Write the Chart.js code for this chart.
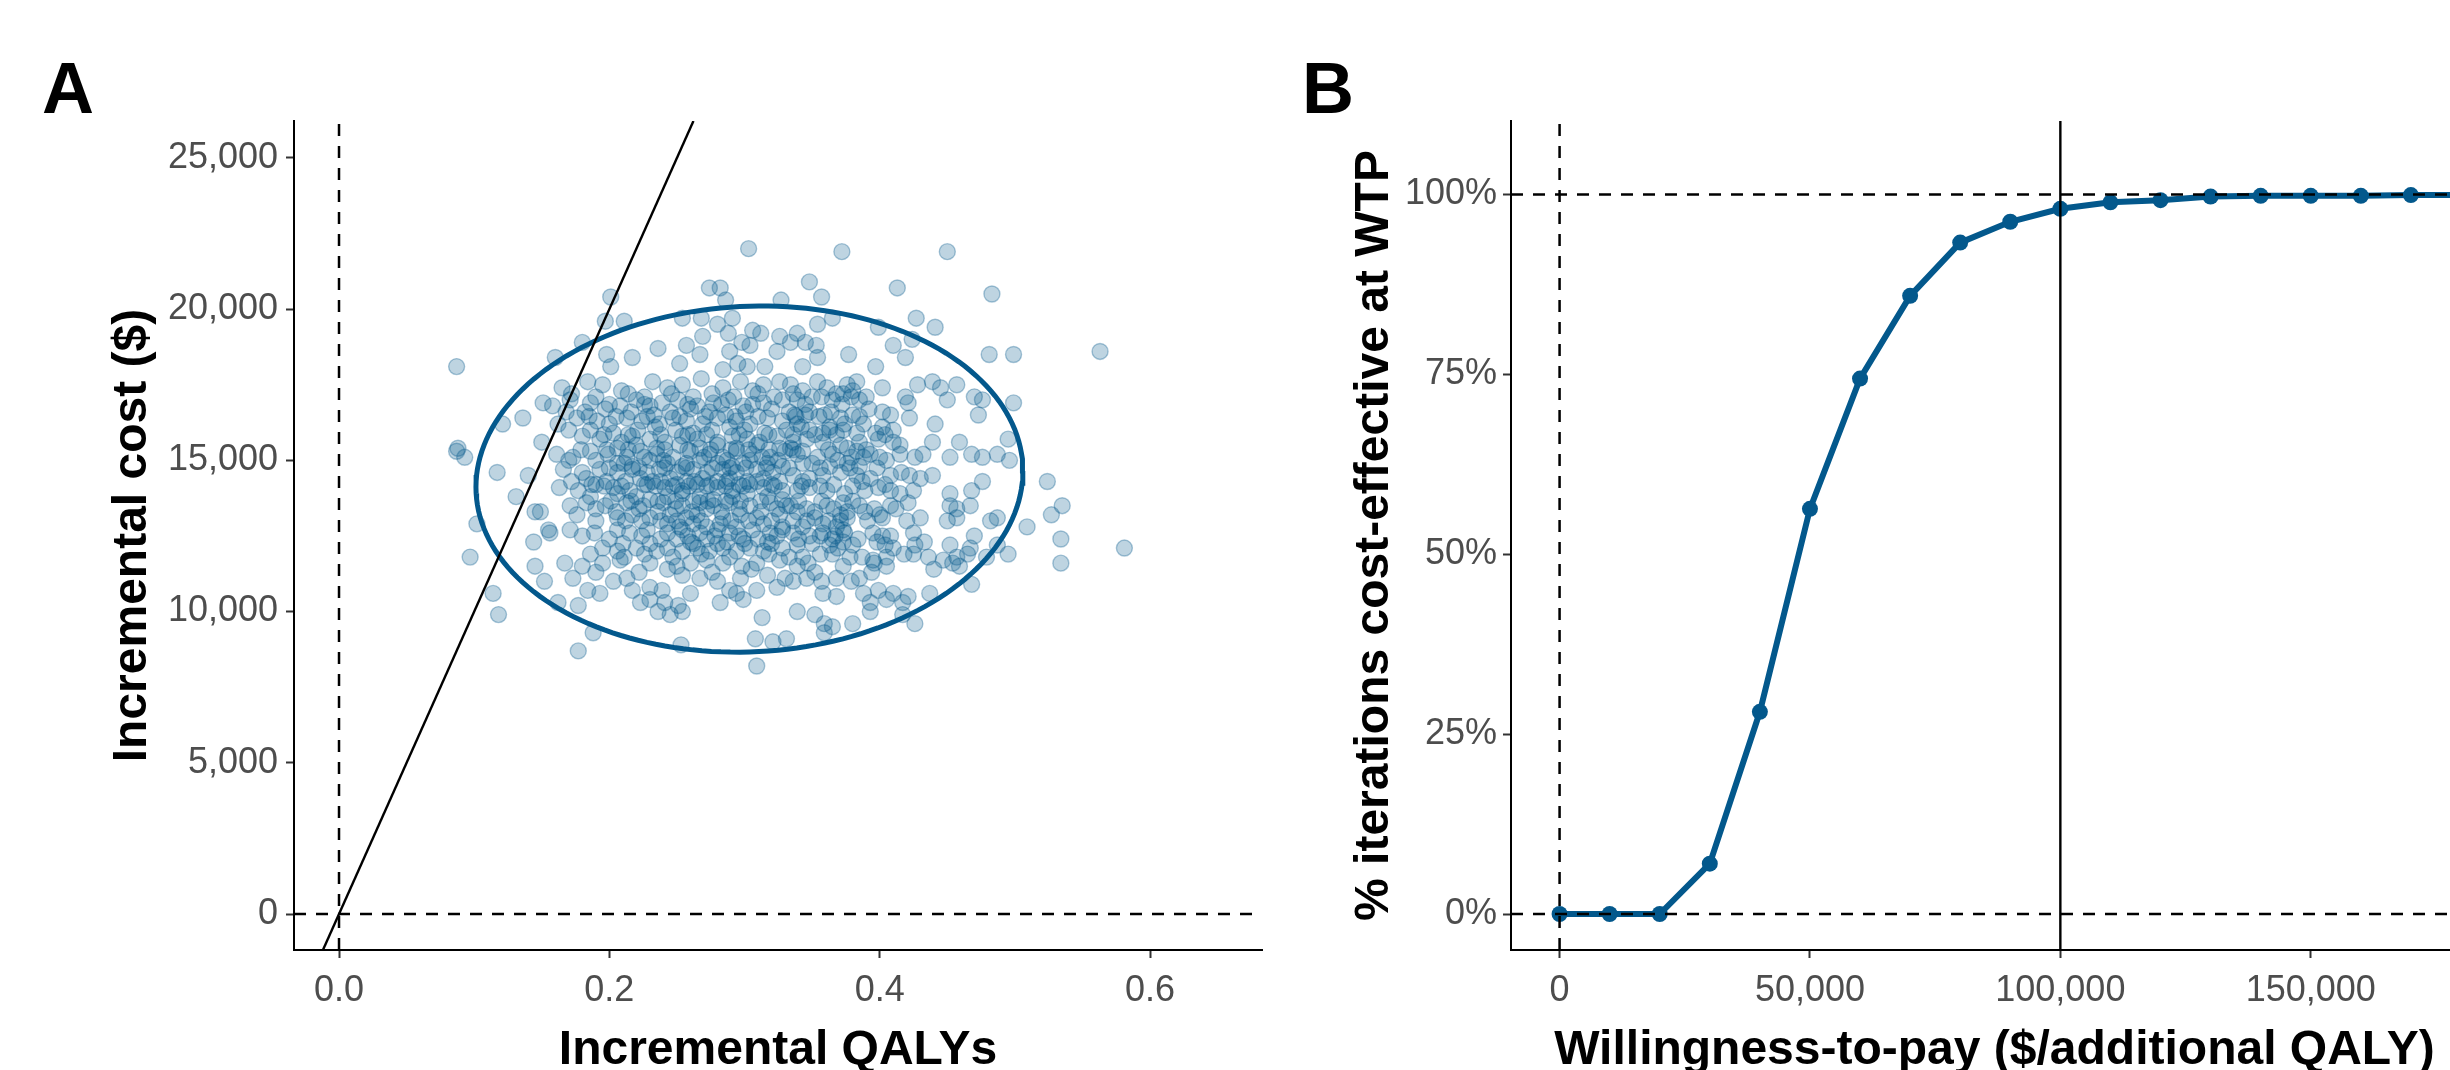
<!DOCTYPE html>
<html>
<head>
<meta charset="utf-8">
<title>Incremental cost-effectiveness plane and CEAC</title>
<script src="https://cdn.jsdelivr.net/npm/chart.js@4.4.1/dist/chart.umd.min.js"></script>
<style>
  html, body { margin: 0; padding: 0; background: #fff; overflow: hidden; width: 2450px; height: 1070px; }
  .panel { position: absolute; top: 0; }
  #panelA { left: 0; }
  #panelB { left: 1290px; }
</style>
</head>
<body>
<div class="panel" id="panelA"><canvas id="chartA" width="1290" height="1100"></canvas></div>
<div class="panel" id="panelB"><canvas id="chartB" width="1200" height="1100"></canvas></div>
<script>
// ---- panel A : PSA draws, [incremental QALYs, incremental cost in $1,000] ----
const psaDraws = [
  [.303,22.0],[.274,20.7],[.282,20.7],[.286,20.3],[.327,20.3],[.201,20.4],[.197,19.6],[.211,19.6],[.254,19.7],[.268,19.7],
  [.280,19.5],[.291,19.7],[.180,18.9],[.160,18.4],[.087,18.1],[.236,18.7],[.217,18.4],[.198,18.5],[.201,18.1],[.257,18.8],
  [.269,19.1],[.252,18.2],[.267,18.5],[.288,19.2],[.298,18.9],[.306,19.3],[.312,19.2],[.326,19.1],[.334,18.9],[.289,18.6],
  [.304,18.8],[.315,18.1],[.324,18.6],[.284,18.0],[.295,18.2],[.302,18.1],[.151,16.9],[.136,16.4],[.121,16.2],[.150,15.6],
  [.088,15.4],
  [.372,21.9],[.450,21.9],[.348,20.9],[.357,20.4],[.413,20.7],[.483,20.5],[.427,19.7],[.441,19.4],[.399,19.4],[.354,19.5],
  [.365,19.7],[.410,18.8],[.424,19.0],[.419,18.4],[.481,18.5],[.499,18.5],[.563,18.6],[.339,19.2],[.345,18.9],[.353,18.8],
  [.354,18.4],[.343,18.1],[.377,18.5],[.397,18.1],
  [.087,15.3],[.093,15.1],[.117,14.6],[.140,14.5],[.131,13.8],[.102,12.9],[.097,11.8],[.114,10.6],[.118,9.9],[.145,13.3],
  [.149,13.3],[.155,12.7],[.144,12.3],[.145,11.5],[.152,11.0],[.188,9.3],[.177,8.7],[.253,8.9],[.308,9.1],[.309,8.2],
  [.321,9.0],[.331,9.1],
  [.524,14.3],[.535,13.5],[.527,13.2],[.509,12.8],[.534,12.4],[.534,11.6],[.581,12.1],[.359,9.3],[.468,10.9],
  [.165,17.4],[.184,17.6],[.195,17.5],[.209,17.3],[.232,17.6],[.243,17.4],[.254,17.5],[.268,17.7],[.284,17.4],[.297,17.6],
  [.306,17.3],[.314,17.5],[.326,17.6],
  [.158,16.8],[.171,17.0],[.186,16.9],[.208,16.8],[.220,17.0],[.230,16.8],[.239,16.9],[.251,17.0],[.265,16.8],[.277,16.9],
  [.288,17.0],[.299,16.8],[.314,16.9],[.328,17.0],
  [.162,16.2],[.176,16.4],[.191,16.3],[.200,16.2],[.213,16.4],[.224,16.3],[.237,16.2],[.247,16.4],[.257,16.3],[.269,16.2],
  [.280,16.4],[.294,16.3],[.304,16.2],[.317,16.4],[.328,16.3],
  [.180,15.8],[.193,15.7],[.209,15.6],[.217,15.8],[.230,15.7],[.241,15.6],[.254,15.8],[.265,15.7],[.280,15.6],[.291,15.8],
  [.302,15.7],[.311,15.6],[.324,15.8],
  [.206,15.4],[.220,15.5],[.235,15.4],[.252,15.5],[.267,15.4],[.280,15.5],[.294,15.4],[.309,15.5],[.326,15.4],
  [.161,15.2],[.173,15.1],[.186,15.3],[.199,15.2],[.213,15.1],[.223,15.3],[.235,15.2],[.247,15.1],[.260,15.3],[.274,15.2],
  [.284,15.1],[.294,15.3],[.306,15.2],[.319,15.1],[.330,15.3],
  [.206,14.9],[.217,14.8],[.230,15.0],[.243,14.9],[.254,14.8],[.267,15.0],[.280,14.9],[.291,14.8],[.304,15.0],[.317,14.9],
  [.328,14.8],
  [.166,14.7],[.180,14.6],[.193,14.7],[.206,14.6],[.217,14.7],[.228,14.6],[.237,14.7],[.250,14.6],[.262,14.7],[.272,14.6],
  [.284,14.7],[.294,14.6],[.309,14.7],[.321,14.6],
  [.183,14.4],[.198,14.3],[.223,14.4],[.232,14.3],[.245,14.4],[.257,14.3],[.269,14.4],[.280,14.3],[.289,14.4],[.302,14.3],
  [.314,14.4],[.326,14.3],
  [.163,14.1],[.177,14.0],[.187,14.2],[.203,14.1],[.215,14.0],[.228,14.2],[.241,14.1],[.254,14.0],[.265,14.2],[.280,14.1],
  [.291,14.0],[.304,14.2],[.314,14.1],[.328,14.0],
  [.186,13.8],[.206,13.9],[.220,13.8],[.230,13.7],[.243,13.8],[.254,13.9],[.267,13.8],[.277,13.7],[.291,13.8],[.302,13.9],
  [.317,13.8],[.328,13.7],
  [.334,17.5],[.354,17.6],[.361,17.4],[.376,17.5],[.383,17.6],[.402,17.4],[.428,17.5],[.439,17.6],[.445,17.4],[.457,17.5],
  [.343,17.3],[.373,17.2],[.380,17.3],
  [.339,17.0],[.357,17.1],[.365,17.0],[.379,17.1],[.385,17.0],[.419,17.1],[.421,16.9],[.450,17.0],[.470,17.1],[.476,17.0],
  [.499,16.9],
  [.337,16.5],[.348,16.6],[.359,16.5],[.371,16.4],[.380,16.5],[.402,16.6],[.408,16.5],[.422,16.4],[.473,16.5],
  [.339,16.2],[.363,16.1],[.374,16.2],[.388,16.2],[.402,16.1],[.441,16.2],
  [.348,16.0],[.358,15.9],[.373,16.0],[.383,15.9],[.410,16.0],
  [.336,15.6],[.346,15.7],[.358,15.6],[.371,15.5],[.385,15.6],[.399,15.7],[.410,15.6],[.415,15.5],[.439,15.6],[.459,15.6],
  [.495,15.7],
  [.334,15.4],[.343,15.3],[.376,15.4],[.383,15.3],
  [.339,15.2],[.354,15.1],[.365,15.2],[.379,15.1],[.393,15.2],[.400,15.1],[.415,15.2],[.426,15.1],[.432,15.2],[.452,15.1],
  [.468,15.2],[.476,15.1],[.487,15.2],[.496,15.0],
  [.343,14.9],[.363,14.8],[.376,14.9],[.385,14.8],
  [.336,14.5],[.348,14.4],[.358,14.5],[.371,14.6],[.383,14.5],[.393,14.4],[.408,14.5],[.416,14.6],[.422,14.5],[.430,14.4],
  [.439,14.5],[.476,14.3],
  [.339,14.0],[.348,14.1],[.361,14.0],[.374,13.9],[.389,14.0],[.399,14.1],[.408,14.0],[.415,13.9],[.425,14.0],[.452,13.9],
  [.468,14.0],
  [.171,13.5],[.183,13.6],[.197,13.5],[.213,13.6],[.225,13.5],[.240,13.6],[.254,13.5],[.267,13.6],[.277,13.5],[.289,13.6],
  [.304,13.5],[.319,13.6],[.331,13.5],
  [.176,13.2],[.206,13.1],[.217,13.2],[.230,13.1],[.245,13.2],[.257,13.1],[.265,13.2],[.284,13.1],[.297,13.2],[.309,13.1],
  [.326,13.2],
  [.243,12.9],[.252,12.8],[.262,12.9],[.272,12.8],[.282,12.9],[.294,12.8],[.314,12.9],[.328,12.8],
  [.156,12.6],[.171,12.7],[.189,12.6],[.206,12.7],[.215,12.6],[.228,12.7],[.243,12.6],[.254,12.7],[.267,12.6],[.280,12.7],
  [.289,12.6],[.306,12.7],[.319,12.6],[.328,12.7],
  [.250,12.4],[.260,12.3],[.272,12.4],[.287,12.3],[.299,12.4],[.317,12.3],
  [.195,12.1],[.206,12.0],[.220,12.1],[.235,12.0],[.243,12.1],[.254,12.0],[.265,12.1],[.274,12.0],[.284,12.1],[.294,12.0],
  [.304,12.1],[.314,12.0],[.328,12.1],
  [.167,11.6],[.180,11.5],[.195,11.6],[.208,11.7],[.230,11.6],[.250,11.5],[.260,11.6],[.272,11.7],[.284,11.6],[.298,11.5],
  [.309,11.6],[.326,11.7],
  [.173,11.1],[.203,11.0],[.213,11.1],[.254,11.2],[.267,11.1],[.280,11.0],[.297,11.1],[.317,11.2],[.330,11.1],
  [.184,10.7],[.193,10.6],[.217,10.7],[.230,10.8],[.239,10.7],[.260,10.6],[.289,10.7],[.294,10.6],[.309,10.7],[.324,10.8],
  [.162,10.3],[.177,10.2],[.223,10.3],[.230,10.4],[.241,10.3],[.251,10.2],[.282,10.3],[.299,10.4],
  [.236,10.0],[.245,9.9],[.254,10.0],[.313,9.8],
  [.334,13.5],[.346,13.4],[.361,13.5],[.373,13.6],[.385,13.5],[.396,13.4],[.408,13.5],[.421,13.6],[.452,13.5],[.457,13.4],
  [.467,13.5],
  [.339,13.3],[.371,13.2],[.376,13.3],[.400,13.2],
  [.336,13.0],[.352,13.1],[.371,13.0],[.376,13.1],[.391,13.0],[.402,13.1],[.420,13.0],[.430,13.1],[.450,13.0],[.457,13.1],
  [.482,13.0],[.487,13.1],
  [.343,12.8],[.358,12.9],[.368,12.8],[.373,12.7],
  [.336,12.6],[.348,12.5],[.358,12.6],[.367,12.5],[.374,12.6],[.395,12.6],[.408,12.5],[.425,12.6],[.470,12.5],
  [.365,12.4],[.373,12.3],
  [.339,12.2],[.363,12.2],[.369,12.1],[.380,12.2],[.398,12.3],[.404,12.2],[.410,12.1],[.426,12.2],[.433,12.3],[.452,12.2],
  [.467,12.1],[.487,12.2],
  [.343,11.8],[.365,11.9],[.378,11.8],[.395,11.7],[.405,11.8],[.425,11.9],[.436,11.8],[.447,11.7],[.457,11.8],[.465,11.9],
  [.479,11.8],[.495,11.9],
  [.339,11.5],[.347,11.6],[.373,11.5],[.396,11.6],[.405,11.5],[.454,11.6],[.459,11.5],
  [.336,11.0],[.346,11.1],[.357,11.0],[.368,11.1],[.379,11.0],[.385,11.1],
  [.358,10.6],[.368,10.5],[.388,10.6],[.399,10.7],[.410,10.6],[.421,10.5],[.437,10.6],
  [.393,10.3],[.405,10.4],[.417,10.3],
  [.339,10.0],[.352,9.9],[.393,10.0],[.417,9.9],
  [.359,9.6],[.365,9.5],[.380,9.6],[.426,9.6],
  // overlapping draws in the dark core
  [.172,17.2],[.190,17.1],[.214,17.2],[.226,17.1],[.246,17.2],[.262,17.1],[.276,17.2],[.292,17.1],[.310,17.2],[.322,17.1],
  [.336,17.2],[.350,17.1],[.368,17.2],[.390,17.1],
  [.168,16.6],[.182,16.6],[.197,16.7],[.216,16.6],[.233,16.5],[.245,16.6],[.260,16.7],[.274,16.6],[.286,16.5],[.301,16.6],
  [.320,16.7],[.333,16.6],[.345,16.5],[.364,16.6],[.392,16.7],
  [.170,16.0],[.186,16.0],[.203,15.9],[.221,16.0],[.234,16.1],[.249,16.0],[.262,15.9],[.276,16.0],[.289,16.1],[.300,16.0],
  [.315,15.9],[.331,16.0],[.342,16.1],[.363,16.0],[.397,15.9],
  [.170,15.0],[.190,15.0],[.211,14.9],[.226,15.1],[.240,15.0],[.257,14.9],[.270,15.1],[.287,15.0],[.299,14.9],[.313,15.1],
  [.325,15.0],[.350,14.9],[.369,15.0],[.388,15.1],[.405,15.0],
  [.172,14.3],[.190,14.2],[.212,14.3],[.226,14.2],[.238,14.3],[.250,14.2],[.263,14.3],[.275,14.2],[.287,14.3],[.296,14.2],
  [.309,14.3],[.320,14.2],[.343,14.3],[.366,14.2],[.387,14.3],[.404,14.2],
  [.190,13.4],[.205,13.3],[.222,13.4],[.236,13.3],[.249,13.4],[.261,13.3],[.272,13.4],[.283,13.3],[.296,13.4],[.312,13.3],
  [.324,13.4],[.352,13.3],[.366,13.4],[.389,13.3],[.412,13.4],
  [.180,12.5],[.200,12.4],[.224,12.5],[.238,12.4],[.258,12.5],[.278,12.5],[.296,12.5],[.310,12.4],[.324,12.5],[.340,12.4],
  [.356,12.5],[.384,12.4],[.402,12.5],
  [.186,11.9],[.211,11.8],[.226,11.9],[.247,11.8],[.268,11.9],[.289,11.8],[.318,11.9],[.333,11.8],[.356,11.9],[.387,11.8],
  [.418,11.9],
  [.190,11.3],[.222,11.3],[.243,11.4],[.276,11.3],[.305,11.4],[.352,11.3],[.394,11.3],[.440,11.4],
  [.200,16.85],[.226,16.85],[.258,16.85],[.283,16.85],[.306,16.85],[.345,16.85],[.372,16.85],
  [.185,16.45],[.205,16.45],[.228,16.45],[.252,16.45],[.271,16.45],[.293,16.45],[.310,16.45],[.338,16.45],[.355,16.45],[.385,16.45],
  [.196,15.85],[.214,15.85],[.238,15.85],[.258,15.85],[.272,15.85],[.296,15.85],[.318,15.85],[.336,15.85],[.352,15.85],[.368,15.85],
  [.404,15.85],
  [.179,15.35],[.198,15.35],[.214,15.35],[.241,15.35],[.258,15.35],[.275,15.35],[.290,15.35],[.303,15.35],[.318,15.35],[.336,15.35],
  [.362,15.35],[.390,15.35],
  [.200,14.75],[.222,14.75],[.241,14.75],[.257,14.75],[.276,14.75],[.289,14.75],[.301,14.75],[.316,14.75],[.333,14.75],[.356,14.75],
  [.378,14.75],[.398,14.75],
  [.196,14.15],[.209,14.15],[.234,14.15],[.247,14.15],[.259,14.15],[.272,14.15],[.286,14.15],[.299,14.15],[.322,14.15],[.342,14.15],
  [.356,14.15],[.380,14.15],
  [.201,13.65],[.216,13.65],[.236,13.65],[.249,13.65],[.262,13.65],[.273,13.65],[.286,13.65],[.297,13.65],[.312,13.65],[.340,13.65],
  [.357,13.65],[.380,13.65],
  [.190,13.0],[.212,13.0],[.224,13.0],[.238,13.0],[.250,13.0],[.268,13.0],[.290,13.0],[.303,13.0],[.320,13.0],[.346,13.0],
  [.362,13.0],
  [.210,12.25],[.230,12.25],[.262,12.25],[.280,12.25],[.300,12.25],[.320,12.25],[.350,12.25]
];
const ellipseCentre = [0.3036, 14380];  // QALYs, $
const ellipseRadii = [0.2023, 5716];
const ellipseTilt = 265;                // $ lift at the right-hand extreme
const wtpThreshold = 100000;            // $/QALY
const qalyTicks = [0, 0.2, 0.4, 0.6];
const costTicks = [0, 5000, 10000, 15000, 20000, 25000];
const qalyRange = [-0.0333, 0.6828];
const costRange = [-1190, 26220];

// ---- panel B : cost-effectiveness acceptability curve ----
const wtpValues = [0, 10000, 20000, 30000, 40000, 50000, 60000, 70000, 80000, 90000, 100000,
  110000, 120000, 130000, 140000, 150000, 160000, 170000, 180000, 190000, 200000];
const pctCostEffective = [0, 0, 0, 7.0, 28.1, 56.3, 74.4, 85.9, 93.3, 96.2, 98.0,
  98.9, 99.2, 99.7, 99.8, 99.8, 99.8, 99.9, 99.9, 100, 100];
const wtpTicks = [0, 50000, 100000, 150000];
const pctTicks = [0, 25, 50, 75, 100];
const wtpRange = [-9700, 183400];
const pctRange = [-5.0, 110.2];

const FONT = '"Liberation Sans", Arial, Helvetica, sans-serif';
const BLUE = '#03588C';

const panelTag = {
  id: 'panelTag',
  afterDraw(chart, args, opts) {
    const ctx = chart.ctx;
    ctx.save();
    ctx.font = 'bold 72px ' + FONT;
    ctx.fillStyle = '#000';
    ctx.textBaseline = 'alphabetic';
    ctx.fillText(opts.text, opts.x, opts.y);
    ctx.restore();
  }
};

function axis(o) {
  return {
    type: 'linear',
    min: o.range[0],
    max: o.range[1],
    afterBuildTicks: s => { s.ticks = o.ticks.map(v => ({ value: v })); },
    afterFit: s => {
      if (o.width) s.width = o.width;
      if (o.height) s.height = o.height;
    },
    grid: { display: true, drawOnChartArea: false, drawTicks: true, tickLength: 8, tickWidth: 2, tickColor: '#333333' },
    border: { display: true, color: '#000', width: 2 },
    ticks: {
      autoSkip: false, maxRotation: 0, minRotation: 0, padding: o.tickPad,
      color: '#4D4D4D', font: { family: FONT, size: 36 }, callback: o.fmt
    },
    title: {
      display: true, text: o.title, color: '#000',
      font: { family: FONT, size: 48, weight: 'bold' }, padding: o.titlePad
    }
  };
}

function refLine(points, dashed) {
  return {
    data: points, showLine: true, pointRadius: 0, borderColor: '#000',
    borderWidth: dashed ? 2.5 : 2.4, borderDash: dashed ? [12, 10] : [], tension: 0
  };
}

const thousands = v => v.toLocaleString('en-US');

// ellipse outline around the PSA cloud
const ellipsePts = [];
for (let i = 0; i <= 180; i++) {
  const t = i / 180 * 2 * Math.PI;
  ellipsePts.push({
    x: ellipseCentre[0] + ellipseRadii[0] * Math.cos(t),
    y: ellipseCentre[1] + ellipseRadii[1] * Math.sin(t) + ellipseTilt * Math.cos(t)
  });
}

const baseOpts = {
  responsive: false, animation: false, devicePixelRatio: 1, events: [],
};

new Chart(document.getElementById('chartA'), {
  type: 'scatter',
  data: {
    datasets: [
      Object.assign(refLine([{ x: qalyRange[0], y: 0 }, { x: qalyRange[1], y: 0 }], true), { order: 6 }),
      Object.assign(refLine([{ x: 0, y: costRange[0] }, { x: 0, y: costRange[1] }], true), { order: 6 }),
      {
        data: psaDraws.map(([q, c]) => ({ x: q, y: c * 1000 })),
        pointRadius: 8, pointBackgroundColor: 'rgba(3,88,140,0.26)',
        pointBorderColor: 'rgba(3,88,140,0.33)', pointBorderWidth: 1.4, order: 4
      },
      {
        data: ellipsePts, showLine: true, pointRadius: 0, borderColor: BLUE,
        borderWidth: 5, tension: 0, order: 2
      },
      Object.assign(refLine([
        { x: costRange[0] / wtpThreshold, y: costRange[0] },
        { x: costRange[1] / wtpThreshold, y: costRange[1] }
      ], false), { order: 1 })
    ]
  },
  options: Object.assign({}, baseOpts, {
    layout: { padding: { top: 121, right: 28, left: 0, bottom: 0 } },
    scales: {
      x: axis({ range: qalyRange, ticks: qalyTicks, height: 150, tickPad: 11,
        fmt: v => v.toFixed(1), title: 'Incremental QALYs', titlePad: { top: 0, bottom: 20 } }),
      y: axis({ range: costRange, ticks: costTicks, width: 294, tickPad: 8,
        fmt: thousands, title: 'Incremental cost ($)', titlePad: { top: 104, bottom: 0 } })
    },
    plugins: { legend: { display: false }, tooltip: { enabled: false },
      panelTag: { text: 'A', x: 42, y: 113 } }
  }),
  plugins: [panelTag]
});

new Chart(document.getElementById('chartB'), {
  type: 'scatter',
  data: {
    datasets: [
      {
        data: wtpValues.map((w, i) => ({ x: w, y: pctCostEffective[i] })),
        showLine: true, borderColor: BLUE, borderWidth: 6, tension: 0,
        pointRadius: 8, pointBackgroundColor: BLUE, pointBorderWidth: 0, order: 3
      },
      Object.assign(refLine([{ x: wtpRange[0], y: 0 }, { x: wtpRange[1], y: 0 }], true), { order: 1 }),
      Object.assign(refLine([{ x: wtpRange[0], y: 100 }, { x: wtpRange[1], y: 100 }], true), { order: 1 }),
      Object.assign(refLine([{ x: 0, y: pctRange[0] }, { x: 0, y: pctRange[1] }], true), { order: 1 }),
      Object.assign(refLine([{ x: wtpThreshold, y: pctRange[0] }, { x: wtpThreshold, y: pctRange[1] }], false), { order: 1 })
    ]
  },
  options: Object.assign({}, baseOpts, {
    layout: { padding: { top: 121, right: 12, left: 0, bottom: 0 } },
    scales: {
      x: axis({ range: wtpRange, ticks: wtpTicks, height: 150, tickPad: 11,
        fmt: thousands, title: 'Willingness-to-pay ($/additional QALY)', titlePad: { top: 0, bottom: 20 } }),
      y: axis({ range: pctRange, ticks: pctTicks, width: 221, tickPad: 6,
        fmt: v => v + '%', title: '% iterations cost-effective at WTP', titlePad: { top: 56, bottom: 0 } })
    },
    plugins: { legend: { display: false }, tooltip: { enabled: false },
      panelTag: { text: 'B', x: 12, y: 113 } }
  }),
  plugins: [panelTag]
});
</script>
</body>
</html>
